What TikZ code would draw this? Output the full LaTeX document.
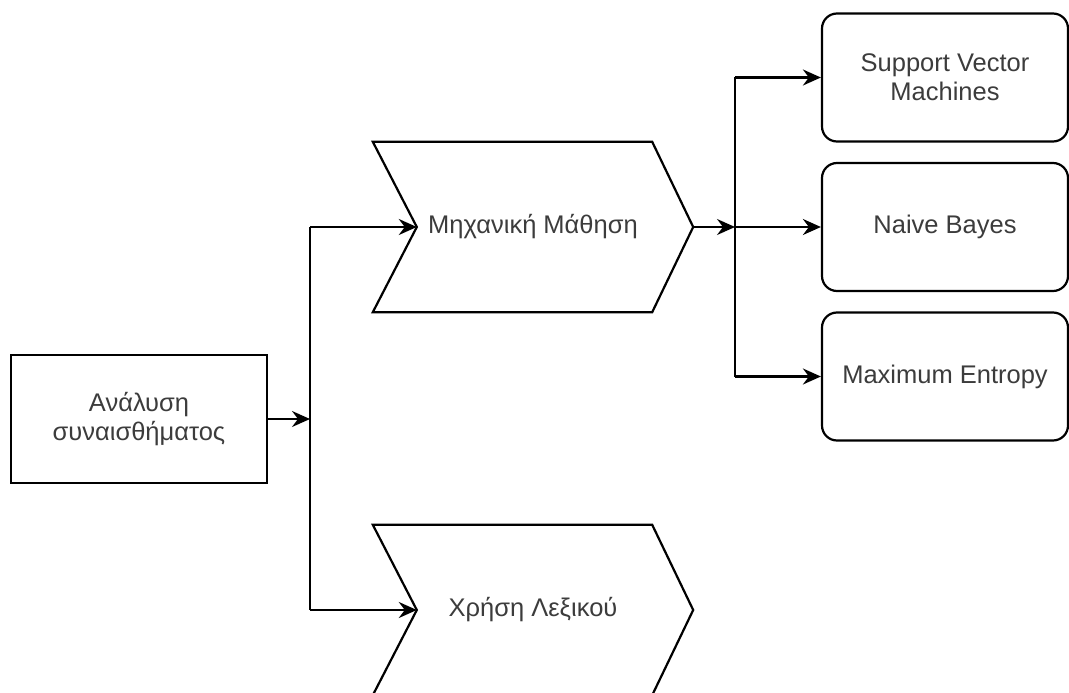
\documentclass[tikz,border=0pt]{standalone}
\usepackage{fontspec}
\setmainfont{Liberation Sans}
\usetikzlibrary{arrows.meta,calc}
\definecolor{txt}{RGB}{60,60,60}
\tikzset{
  every node/.style={font=\fontsize{25.5}{29}\selectfont, text=txt, align=center, inner sep=0pt},
  plainbox/.style={draw=black, line width=2.2pt, minimum width=256pt, minimum height=128pt},
  roundbox/.style={draw=black, line width=2.2pt, rounded corners=15pt, minimum width=246pt, minimum height=128pt},
  chevbox/.style={minimum width=320pt, minimum height=170pt},
  chevline/.style={draw=black, line width=2.2pt, line join=miter},
  conn/.style={draw=black, line width=2.2pt},
  arr/.style={conn, -{Stealth[length=18pt,width=16pt,inset=6pt]}},
}
\begin{document}
\begin{tikzpicture}[x=1pt,y=-1pt]
\useasboundingbox (0,0) rectangle (1069,693);
\fill[white] (0,0) rectangle (1069,693);
% nodes
\node[plainbox] (sa) at (139,419) {Ανάλυση\\συναισθήματος};
\node[chevbox] (ml) at (533,227) {Μηχανική Μάθηση};
\node[chevbox] (lx) at (533,610) {Χρήση Λεξικού};
\node[roundbox] (svm) at (945,77.5) {Support Vector\\Machines};
\node[roundbox] (nb) at (945,227) {Naive Bayes};
\node[roundbox] (me) at (945,376.5) {Maximum Entropy};
% chevron outlines
\foreach \n in {ml,lx}{
  \draw[chevline] (\n.north west) -- ($(\n.north east)-(41,0)$) -- (\n.east)
    -- ($(\n.south east)-(41,0)$) -- (\n.south west) -- ($(\n.west)+(44,0)$) -- cycle;
}
\coordinate (mlin) at ($(ml.west)+(44,0)$);
\coordinate (lxin) at ($(lx.west)+(44,0)$);
% junctions
\coordinate (j1) at (310,419);
\coordinate (ja) at (310,227);
\coordinate (jb) at (310,610);
\coordinate (j2) at (735,227);
\coordinate (jc) at (735,77.5);
\coordinate (jd) at (735,376.5);
% connectors
\draw[arr] (sa.east) -- (j1);
\draw[conn] (ja) -- (jb);
\draw[arr] (ja) -- (mlin);
\draw[arr] (jb) -- (lxin);
\draw[arr] (ml.east) -- (j2);
\draw[conn] (jc) -- (jd);
\draw[arr] (jc) -- (svm.west);
\draw[arr] (j2) -- (nb.west);
\draw[arr] (jd) -- (me.west);
\end{tikzpicture}
\end{document}
